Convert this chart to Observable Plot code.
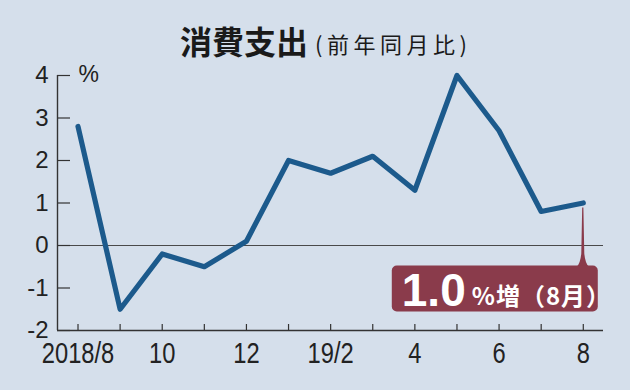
<!DOCTYPE html>
<html><head><meta charset="utf-8">
<script src="https://cdn.jsdelivr.net/npm/d3@7"></script>
<script src="https://cdn.jsdelivr.net/npm/@observablehq/plot@0.6"></script>
<style>
body{margin:0;background:#d5dfeb;width:630px;height:390px;overflow:hidden;font-family:"Noto Sans CJK JP",sans-serif;}
#title{position:relative;height:55px;color:#1a1a1a;}
#t1{position:absolute;left:180px;top:24px;font-size:32px;font-weight:bold;line-height:1;white-space:nowrap;}
#t2{position:absolute;left:315px;top:32px;font-size:22px;letter-spacing:4.5px;line-height:1;white-space:nowrap;}
#chart svg{display:block;}
</style>
</head><body>
<div id="title"><span id="t1"></span><span id="t2"></span></div>
<div id="chart"></div>
<script>
const titleMain = "消費支出";
const titleSub = "(前年同月比)";
const months = ["2018/8","2018/9","2018/10","2018/11","2018/12","2019/1","2019/2","2019/3","2019/4","2019/5","2019/6","2019/7","2019/8"];
const tickLabels = ["2018/8","","10","","12","","19/2","","4","","6","","8"];
const values = [2.8,-1.5,-0.2,-0.5,0.1,2.0,1.7,2.1,1.3,4.0,2.7,0.8,1.0];
const yTicks = [-2,-1,0,1,2,3,4];
const unitLabel = "%";
const calloutValue = "1.0";
const calloutSuffix = "%増（8月）";

document.getElementById("t1").textContent = titleMain;
document.getElementById("t2").textContent = titleSub;

const data = values.map((v, i) => ({i, v, m: months[i]}));
const idx = d3.range(months.length);
const xDomain = [-0.487, 12.48];
const numFont = '"Liberation Sans",sans-serif';

const chart = Plot.plot({
  width: 630, height: 335,
  marginTop: 20, marginBottom: 60, marginLeft: 57, marginRight: 27,
  style: {background: "transparent", fontFamily: numFont, color: "#222"},
  x: {domain: xDomain, axis: null},
  y: {domain: [-2, 4], axis: null},
  marks: [
    Plot.ruleY([0], {stroke: "#4a4a4a", strokeWidth: 1.2}),
    Plot.axisY({ticks: yTicks, tickSize: 0, tickPadding: 9, fontSize: 24, fill: "#222", label: null, tickFormat: d => String(d)}),
    Plot.axisY({ticks: yTicks, tickSize: 13, dx: 13, tickFormat: () => "", label: null, stroke: "#333", strokeWidth: 1.2}),
    Plot.axisX({ticks: idx, tickSize: 0, tickPadding: 11, tickFormat: i => tickLabels[i], label: null, fontSize: 30, fill: "#222"}),
    Plot.axisX({ticks: idx, tickSize: 6, dy: -6, tickFormat: () => "", label: null, stroke: "#333", strokeWidth: 1.2}),
    Plot.ruleX([xDomain[0]], {stroke: "#333", strokeWidth: 1.4}),
    Plot.ruleY([-2], {stroke: "#333", strokeWidth: 1.4}),
    Plot.lineY(data, {x: "i", y: "v", stroke: "#1c5a8c", strokeWidth: 5.2, strokeLinejoin: "round", strokeLinecap: "round"}),
    Plot.text([unitLabel], {frameAnchor: "top-left", lineAnchor: "top", textAnchor: "start", dx: 21, dy: -10, fontSize: 23, fill: "#222"})
  ]
});
document.getElementById("chart").appendChild(chart);

// condensed look for the tick labels
d3.select(chart).selectAll('g[aria-label="x-axis tick label"] text').each(function() {
  const tr = this.getAttribute("transform") || "";
  this.setAttribute("transform", tr + " scale(0.79,1)");
});

// callout for the last value
const sx = chart.scale("x"), sy = chart.scale("y");
const last = data[data.length - 1];
const xl = sx.apply(last.i), yl = sy.apply(last.v);
const g = d3.select(chart).append("g");
const boxTop = yl + 63, boxBot = yl + 109, boxL = xl - 191, boxR = xl + 15;
const col = "#8a3b4b";
g.append("path")
  .attr("d", `M${xl-6},${boxTop+1} Q${xl-2.5},${boxTop-2} ${xl-1.5},${boxTop-12} L${xl-0.6},${yl+5} L${xl+0.6},${yl+5} L${xl+1.5},${boxTop-12} Q${xl+2.5},${boxTop-2} ${xl+6},${boxTop+1} Z`)
  .attr("fill", col);
g.append("rect")
  .attr("x", boxL).attr("y", boxTop).attr("width", boxR - boxL).attr("height", boxBot - boxTop)
  .attr("rx", 5).attr("fill", col);
g.append("text").text(calloutValue)
  .attr("x", xl - 181).attr("y", yl + 103)
  .attr("text-anchor", "start").attr("fill", "#fff")
  .attr("font-family", '"Liberation Sans",sans-serif').attr("font-weight", "bold").attr("font-size", 46);
g.append("text").text(calloutSuffix)
  .attr("x", xl - 111).attr("y", yl + 102)
  .attr("text-anchor", "start").attr("fill", "#fff").attr("letter-spacing", 1)
  .attr("font-family", '"Noto Sans CJK JP",sans-serif').attr("font-weight", "bold").attr("font-size", 24);
</script>
</body></html>
